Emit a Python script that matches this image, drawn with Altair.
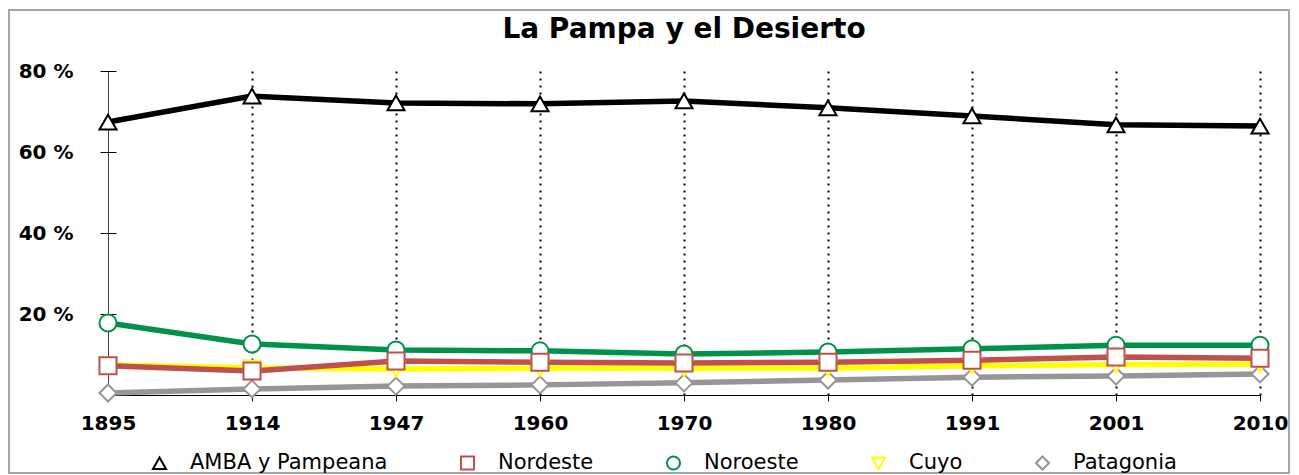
import altair as alt
import pandas as pd

years = ["1895", "1914", "1947", "1960", "1970", "1980", "1991", "2001", "2010"]
series_names = ["AMBA y Pampeana", "Nordeste", "Noroeste", "Cuyo", "Patagonia"]
amba = [67.4, 73.8, 72.1, 71.9, 72.6, 70.9, 68.9, 66.7, 66.4]
nordeste = [7.2, 5.9, 8.4, 8.1, 7.9, 8.1, 8.6, 9.4, 9.1]
noroeste = [17.8, 12.6, 11.1, 10.9, 10.1, 10.6, 11.4, 12.3, 12.3]
cuyo = [7.4, 6.7, 6.4, 6.6, 6.6, 6.6, 7.2, 7.5, 7.6]
patagonia = [0.5, 1.5, 2.2, 2.5, 3.0, 3.7, 4.4, 4.7, 5.2]
y_ticks = [20, 40, 60, 80]
title_text = "La Pampa y el Desierto"

colors = ["#000000", "#C0504D", "#00924A", "#FFFF00", "#969696"]
shapes = ["triangle-up", "square", "circle", "triangle-down", "diamond"]
draw_order = ["Patagonia", "Cuyo", "Noroeste", "Nordeste", "AMBA y Pampeana"]

values = {
    "AMBA y Pampeana": amba,
    "Nordeste": nordeste,
    "Noroeste": noroeste,
    "Cuyo": cuyo,
    "Patagonia": patagonia,
}
rows = []
for rank, s in enumerate(draw_order):
    for y, v in zip(years, values[s]):
        rows.append({"series": s, "year": y, "value": v, "rank": rank})
df = pd.DataFrame(rows)

FONT = "DejaVu Sans"
first_year_test = "datum.value == '" + years[0] + "'"

X = alt.X(
    "year:O",
    sort=years,
    scale=alt.Scale(type="point", padding=0),
    axis=alt.Axis(
        title=None, labelAngle=0, labelFont=FONT, labelFontSize=20,
        labelFontWeight="bold", labelColor="black", labelPadding=12,
        domainColor="black", domainWidth=1, tickColor="black", tickSize=6,
        grid=True, gridColor="black",
        gridDash={"condition": {"test": first_year_test, "value": [1, 0]}, "value": [2, 5]},
        gridWidth={"condition": {"test": first_year_test, "value": 1}, "value": 2},
    ),
)
Y = alt.Y(
    "value:Q",
    scale=alt.Scale(domain=[0, 80], nice=False),
    axis=alt.Axis(
        title=None, values=y_ticks, labelExpr="datum.value + ' %'",
        labelFont=FONT, labelFontSize=20, labelFontWeight="bold",
        labelColor="black", labelPadding=27, domain=False, offset=-8,
        tickColor="black", tickSize=16, grid=False,
    ),
)

frame = alt.Chart(pd.DataFrame({"k": [0]})).mark_rect(
    fill="transparent", stroke="#A6A6A6", strokeWidth=2
).encode(
    x=alt.value(-99), x2=alt.value(1181), y=alt.value(-61), y2=alt.value(402)
)

title = alt.Chart(pd.DataFrame({"t": [title_text]})).mark_text(
    font=FONT, fontSize=28, fontWeight="bold", color="black",
    align="center", baseline="alphabetic",
).encode(text="t:N", x=alt.value(576), y=alt.value(-33))

color_lookup = dict(zip(series_names, colors))
line_layers = []
for s in draw_order:
    line_layers.append(
        alt.Chart(df)
        .transform_filter(alt.datum.series == s)
        .mark_line(color=color_lookup[s], strokeWidth=5.5)
        .encode(x=X, y=Y)
    )

legend = alt.Legend(
    title=None, orient="none", legendX=41, legendY=381, direction="horizontal",
    labelFont=FONT, labelFontSize=21, labelColor="black", labelLimit=400,
    symbolSize=170, symbolStrokeWidth=2, symbolFillColor="white",
    labelOffset=20, columnPadding=68,
)

points = alt.Chart(df).mark_point(
    filled=False, fill="white", size=290, strokeWidth=2, opacity=1
).encode(
    x=X,
    y=Y,
    color=alt.Color("series:N", scale=alt.Scale(domain=series_names, range=colors), legend=legend),
    shape=alt.Shape("series:N", scale=alt.Scale(domain=series_names, range=shapes), legend=legend),
    order=alt.Order("rank:Q"),
)

chart = alt.layer(frame, *line_layers, points, title).properties(
    width=1152,
    height=324,
    autosize=alt.AutoSizeParams(type="none"),
    padding={"left": 100, "top": 63, "right": 31, "bottom": 79},
).configure_view(stroke=None)

chart.save("out.html", embed_options={"renderer": "svg", "actions": False})
